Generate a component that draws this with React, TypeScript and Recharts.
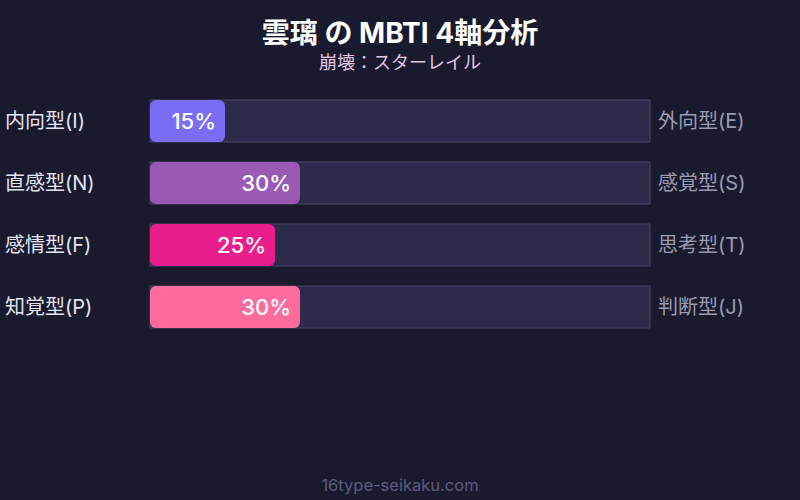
import React from 'react';
import { BarChart, Bar, XAxis, YAxis, Cell, LabelList } from 'recharts';

const leftLabels = ['内向型(I)', '直感型(N)', '感情型(F)', '知覚型(P)'];
const rightLabels = ['外向型(E)', '感覚型(S)', '思考型(T)', '判断型(J)'];
const values = [15, 30, 25, 30];
const colors = ['#7b6cf6', '#9b59b6', '#e91e8c', '#ff6b9d'];

const data = leftLabels.map((l, i) => ({ left: l, right: rightLabels[i], value: values[i] }));

const FONT = "Inter, 'Noto Sans CJK JP', sans-serif";

const LeftTick = (props: any) => {
  const { y, payload } = props;
  return (
    <text x={5} y={y} dy={7} fill="#e4e4f2" fontSize={20} fontFamily={FONT} textAnchor="start">
      {payload.value}
    </text>
  );
};

const RightTick = (props: any) => {
  const { y, payload } = props;
  return (
    <text x={658} y={y} dy={7} fill="#9a9ab0" fontSize={20} fontFamily={FONT} textAnchor="start">
      {payload.value}
    </text>
  );
};

const ValueLabel = (props: any) => {
  const { x, y, width, height, value } = props;
  return (
    <text
      x={x + width - 9}
      y={y + height / 2}
      dy={8}
      fill="#ffffff"
      fontSize={22}
      fontWeight={500}
      fontFamily={FONT}
      textAnchor="end"
    >
      {value}%
    </text>
  );
};

export default function App() {
  return (
    <div style={{ position: 'absolute', left: 0, top: 0, width: 800, height: 500, background: '#1a1a2e', fontFamily: FONT }}>
      <div style={{ position: 'absolute', top: 14, left: 0, width: 800, textAlign: 'center', color: '#ffffff', fontSize: 28, fontWeight: 700, lineHeight: '38px' }}>
        雲璃 の MBTI 4軸分析
      </div>
      <div style={{ position: 'absolute', top: 51, left: 0, width: 800, textAlign: 'center', color: '#e6c6e6', fontSize: 18, lineHeight: '24px' }}>
        崩壊：スターレイル
      </div>
      <BarChart
        width={800}
        height={500}
        data={data}
        layout="vertical"
        margin={{ top: 90, right: 0, bottom: 162, left: 0 }}
        barCategoryGap={10}
      >
        <XAxis type="number" domain={[0, 100]} hide />
        <YAxis yAxisId="l" type="category" dataKey="left" width={150} axisLine={false} tickLine={false} tick={<LeftTick />} />
        <YAxis yAxisId="r" type="category" dataKey="right" orientation="right" width={150} axisLine={false} tickLine={false} tick={<RightTick />} />
        <Bar
          yAxisId="l"
          dataKey="value"
          isAnimationActive={false}
          radius={6}
          background={{ fill: '#2c2b4a', stroke: '#46456a', strokeWidth: 1 }}
        >
          {data.map((d, i) => (
            <Cell key={i} fill={colors[i]} />
          ))}
          <LabelList dataKey="value" content={<ValueLabel />} />
        </Bar>
      </BarChart>
      <div style={{ position: 'absolute', top: 474, left: 0, width: 800, textAlign: 'center', color: '#5c5c7c', fontSize: 16.5, lineHeight: '22px' }}>
        16type-seikaku.com
      </div>
    </div>
  );
}
